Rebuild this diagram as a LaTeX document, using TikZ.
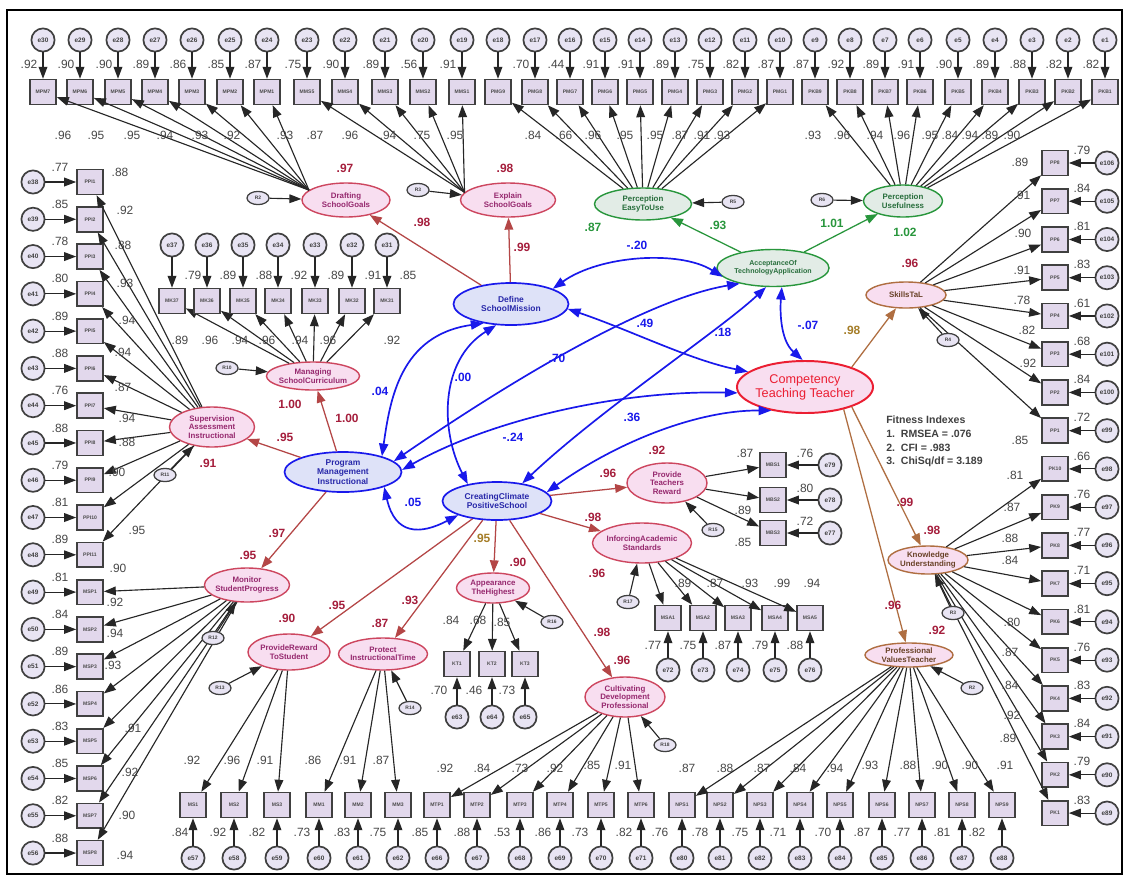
\documentclass[tikz,border=0pt]{standalone}
\usepackage{fontspec}
\setmainfont{Liberation Sans}
\usetikzlibrary{arrows.meta,shapes.geometric}
\definecolor{boxfill}{RGB}{226,216,236}
\definecolor{errfill}{RGB}{232,228,243}
\definecolor{pinkfill}{RGB}{248,222,240}
\definecolor{bluefill}{RGB}{222,226,248}
\definecolor{greenfill}{RGB}{226,236,230}
\definecolor{latred}{RGB}{205,70,95}
\definecolor{lattext}{RGB}{150,40,110}
\definecolor{blueline}{RGB}{25,25,235}
\definecolor{bluetext}{RGB}{40,40,170}
\definecolor{greenline}{RGB}{40,150,60}
\definecolor{greentext}{RGB}{40,110,60}
\definecolor{brownline}{RGB}{175,110,65}
\definecolor{strred}{RGB}{180,70,70}
\definecolor{rred}{RGB}{165,30,60}
\definecolor{olivec}{RGB}{165,125,40}
\definecolor{compred}{RGB}{235,30,50}
\begin{document}
\begin{tikzpicture}[x=0.025cm,y=-0.025cm,
  obs/.style={rectangle,draw=black!75,line width=1.2pt,fill=boxfill,minimum width=0.65cm,minimum height=0.62cm,inner sep=0pt,font=\fontsize{3.6}{4}\selectfont\bfseries,text=black!70},
  err/.style={circle,draw=black!75,line width=1.2pt,fill=errfill,minimum size=0.58cm,inner sep=0pt,font=\fontsize{4.6}{5}\selectfont\bfseries,text=black!75},
  dist/.style={ellipse,draw=black!75,line width=0.9pt,fill=errfill,minimum width=0.55cm,minimum height=0.33cm,inner sep=0pt,font=\fontsize{3.5}{4}\selectfont\bfseries,text=black!75},
  lat/.style={ellipse,line width=1pt,inner sep=0pt},
  pinklat/.style={lat,draw=latred,fill=pinkfill},
  bluelat/.style={lat,draw=blueline,fill=bluefill,line width=1.2pt},
  greenlat/.style={lat,draw=greenline,fill=greenfill},
  brownlat/.style={lat,draw=brownline,fill=pinkfill},
  ltxt/.style={align=center,font=\fontsize{5.6}{6}\selectfont\bfseries,text=lattext,inner sep=0pt},
  btxt/.style={ltxt,text=bluetext,font=\fontsize{6}{6.8}\selectfont\bfseries},
  gtxt/.style={ltxt,text=greentext},
  wtxt/.style={ltxt,text=brownline!60!black},
  arr/.style={-{Triangle[length=8.5pt,width=6.2pt]},line width=0.8pt,draw=black!85},
  sarr/.style={-{Triangle[length=8.5pt,width=6.2pt]},line width=0.9pt,draw=strred},
  garr/.style={sarr,draw=greenline},
  oarr/.style={sarr,draw=brownline},
  corr/.style={{Triangle[length=9pt,width=6.5pt]}-{Triangle[length=9pt,width=6.5pt]},line width=1.2pt,draw=blueline},
  lab/.style={font=\fontsize{8.5}{9}\selectfont,text=black!72,inner sep=0pt},
  rlab/.style={font=\fontsize{8.5}{9}\selectfont\bfseries,text=rred,inner sep=0pt},
  glab/.style={rlab,text=greenline},
  olab/.style={rlab,text=olivec},
  clab/.style={rlab,text=blueline}]
\useasboundingbox (0,0) rectangle (1127,877);
\fill[white] (0,0) rectangle (1127,877);
\draw[line width=1.3pt] (7,10) rectangle (1122,874);

% ---------- latent variables ----------
\node[pinklat,minimum width=2.2cm,minimum height=0.85cm] (draft) at (346,200) {};
\node[ltxt] at (draft) {Drafting\\SchoolGoals};
\node[pinklat,minimum width=2.375cm,minimum height=0.85cm] (expl) at (508,200) {};
\node[ltxt] at (expl) {Explain\\SchoolGoals};
\node[greenlat,minimum width=2.425cm,minimum height=0.8cm] (easy) at (643,204) {};
\node[gtxt] at (easy) {Perception\\EasyToUse};
\node[greenlat,minimum width=1.975cm,minimum height=0.8cm] (usef) at (903,201) {};
\node[gtxt] at (usef) {Perception\\Usefulness};
\node[greenlat,minimum width=2.8cm,minimum height=0.925cm] (acc) at (773,268) {};
\node[gtxt,font=\fontsize{5}{5.6}\selectfont\bfseries] at (acc) {AcceptanceOf\\TechnologyApplication};
\node[bluelat,minimum width=2.875cm,minimum height=1.05cm] (def) at (511,304) {};
\node[btxt] at (def) {Define\\SchoolMission};
\node[bluelat,minimum width=2.925cm,minimum height=1.0cm] (pm) at (343,472) {};
\node[btxt] at (pm) {Program\\Management\\Instructional};
\node[bluelat,minimum width=2.725cm,minimum height=0.95cm] (cre) at (497,501) {};
\node[btxt] at (cre) {CreatingClimate\\PositiveSchool};
\node[pinklat,minimum width=2.325cm,minimum height=0.7cm] (manag) at (313,376) {};
\node[ltxt] at (manag) {Managing\\SchoolCurriculum};
\node[pinklat,minimum width=2.125cm,minimum height=1.0cm] (superv) at (212,427) {};
\node[ltxt] at (superv) {Supervision\\Assessment\\Instructional};
\node[pinklat,minimum width=2.125cm,minimum height=0.85cm] (monit) at (247,585) {};
\node[ltxt] at (monit) {Monitor\\StudentProgress};
\node[pinklat,minimum width=2.05cm,minimum height=0.9cm] (provrew) at (289,652) {};
\node[ltxt] at (provrew) {ProvideReward\\ToStudent};
\node[pinklat,minimum width=2.225cm,minimum height=0.8cm] (protect) at (383,654) {};
\node[ltxt] at (protect) {Protect\\InstructionalTime};
\node[pinklat,minimum width=1.825cm,minimum height=0.75cm] (appear) at (493,588) {};
\node[ltxt] at (appear) {Appearance\\TheHighest};
\node[pinklat,minimum width=2.0cm,minimum height=1.0cm] (cultiv) at (625,697) {};
\node[ltxt] at (cultiv) {Cultivating\\Development\\Professional};
\node[pinklat,minimum width=2.475cm,minimum height=1.0cm] (inforc) at (642,543) {};
\node[ltxt] at (inforc) {InforcingAcademic\\Standards};
\node[pinklat,minimum width=2.0cm,minimum height=1.0cm] (provt) at (667,483) {};
\node[ltxt] at (provt) {Provide\\Teachers\\Reward};
\node[lat,draw=compred,fill=pinkfill,line width=1.4pt,minimum width=3.4cm,minimum height=1.3cm] (comp) at (805,387) {};
\node[align=center,font=\fontsize{9}{10}\selectfont,text=compred,inner sep=0pt] at (comp) {Competency\\Teaching Teacher};
\node[brownlat,minimum width=2.0cm,minimum height=0.65cm] (skills) at (906,295) {};
\node[wtxt] at (skills) {SkillsTaL};
\node[brownlat,minimum width=2.0cm,minimum height=0.7cm] (knowl) at (928,560) {};
\node[wtxt] at (knowl) {Knowledge\\Understanding};
\node[brownlat,minimum width=2.2cm,minimum height=0.6cm] (profess) at (909,655) {};
\node[wtxt] at (profess) {Professional\\ValuesTeacher};

% ---------- top row ----------
\foreach \x/\b/\e/\r [count=\i] in {43/MPM7/e30/.92,80/MPM6/e29/.90,118/MPM5/e28/.90,155/MPM4/e27/.89,192/MPM3/e26/.86,230/MPM2/e25/.85,267/MPM1/e24/.87,307/MMS5/e23/.75,345/MMS4/e22/.90,385/MMS3/e21/.89,423/MMS2/e20/.56,462/MMS1/e19/.91,498/PMG9/e18/{},535/PMG8/e17/.70,570/PMG7/e16/.44,605/PMG6/e15/.91,640/PMG5/e14/.91,675/PMG4/e13/.89,710/PMG3/e12/.75,745/PMG2/e11/.82,780/PMG1/e10/.87,815/PKB9/e9/.87,850/PKB8/e8/.92,885/PKB7/e7/.89,920/PKB6/e6/.91,958/PKB5/e5/.90,995/PKB4/e4/.89,1032/PKB3/e3/.88,1068/PKB2/e2/.82,1105/PKB1/e1/.82}{
  \node[err] (te\i) at (\x,40) {\e};
  \node[obs] (tb\i) at (\x,92) {\b};
  \draw[arr] (te\i) -- (tb\i);
  \node[lab] at (\x-14,64) {\r};
}
\foreach \i in {1,...,7} \draw[arr] (draft.165) -- (tb\i);
\foreach \i in {8,...,12} \draw[arr] (expl.170) -- (tb\i);
\foreach \i in {13,...,21} \draw[arr] (easy) -- (tb\i);
\foreach \i in {22,...,30} \draw[arr] (usef) -- (tb\i);
\foreach \x/\t in {63/.96,96/.95,132/.95,165/.94,200/.93,232/.92,285/.93,315/.87,350/.96,388/.94,422/.75,455/.95,533/.84,564/.66,593/.96,625/.95,655/.95,680/.87,702/.91,722/.93,813/.93,842/.96,875/.94,902/.96,930/.95,950/.84,970/.94,990/.89,1012/.90}
  \node[lab] at (\x,135) {\t};

% ---------- left column ----------
\foreach \b/\e/\r [count=\i] in {PPI1/e38/.77,PPI2/e39/.85,PPI3/e40/.78,PPI4/e41/.80,PPI5/e42/.89,PPI6/e43/.88,PPI7/e44/.76,PPI8/e45/.88,PPI9/e46/.79,PPI10/e47/.81,PPI11/e48/.89,MSP1/e49/.81,MSP2/e50/.84,MSP3/e51/.89,MSP4/e52/.86,MSP5/e53/.83,MSP6/e54/.85,MSP7/e55/.82,MSP8/e56/.88}{
  \pgfmathsetmacro\yy{182+37.28*(\i-1)}
  \node[err] (le\i) at (33,\yy) {\e};
  \node[obs] (lb\i) at (90,\yy) {\b};
  \draw[arr] (le\i) -- (lb\i);
  \node[lab] at (60,\yy-15) {\r};
}
\foreach \i in {1,...,11} \draw[arr] (superv) -- (lb\i);
\foreach \i in {12,...,19} \draw[arr] (monit) -- (lb\i);
\foreach \x/\y/\t in {120/172/.88,125/210/.92,123/245/.88,125/283/.93,127/320/.94,123/352/.94,123/387/.87,127/418/.94,127/442/.88,117/472/.90,137/530/.95,118/568/.90,115/602/.92,115/633/.94,113/665/.93,133/728/.91,130/772/.92,127/815/.90,125/855/.94}
  \node[lab] at (\x,\y) {\t};

% ---------- right column ----------
\foreach \b/\e/\r [count=\i] in {PP8/e106/.79,PP7/e105/.84,PP6/e104/.81,PP5/e103/.83,PP4/e102/.61,PP3/e101/.68,PP2/e100/.84,PP1/e99/.72,PK10/e98/.66,PK9/e97/.76,PK8/e96/.77,PK7/e95/.71,PK6/e94/.81,PK5/e93/.76,PK4/e92/.83,PK3/e91/.84,PK2/e90/.79,PK1/e89/.83}{
  \pgfmathsetmacro\yy{163+38.24*(\i-1)}
  \node[err] (re\i) at (1107,\yy) {\e};
  \node[obs] (rb\i) at (1055,\yy) {\b};
  \draw[arr] (re\i) -- (rb\i);
  \node[lab] at (1082,\yy-13) {\r};
}
\foreach \i in {1,...,8} \draw[arr] (skills) -- (rb\i);
\foreach \i in {9,...,18} \draw[arr] (knowl) -- (rb\i);
\foreach \x/\y/\t in {1020/162/.89,1022/195/.91,1023/233/.90,1022/270/.91,1022/300/.78,1027/330/.82,1028/363/.92,1020/440/.85,1015/475/.81,1012/507/.87,1010/538/.88,1010/560/.84,1012/622/.80,1010/652/.87,1010/685/.84,1012/715/.92,1008/738/.89}
  \node[lab] at (\x,\y) {\t};

% ---------- MK row ----------
\foreach \x/\b/\e/\r [count=\i] in {172/MK37/e37/.79,207/MK36/e36/.89,243/MK35/e35/.88,278/MK34/e34/.92,315/MK33/e33/.89,352/MK32/e32/.91,387/MK31/e31/.85}{
  \node[err] (me\i) at (\x,245) {\e};
  \node[obs] (mb\i) at (\x,301) {\b};
  \draw[arr] (me\i) -- (mb\i);
  \node[lab] at (\x+21,275) {\r};
  \draw[arr] (manag) -- (mb\i);
}
\foreach \x/\t in {180/.89,210/.96,240/.94,267/.96,300/.94,328/.96,392/.92}
  \node[lab] at (\x,340) {\t};

% ---------- Provide teachers reward ----------
\foreach \y/\b/\e/\r [count=\i] in {465/MBS1/e79/.76,500/MBS2/e78/.80,533/MBS3/e77/.72}{
  \node[err] (pe\i) at (830,\y) {\e};
  \node[obs] (pb\i) at (773,\y) {\b};
  \draw[arr] (pe\i) -- (pb\i);
  \node[lab] at (805,\y-12) {\r};
  \draw[arr] (provt) -- (pb\i);
}
\foreach \x/\y/\t in {745/453/.87,743/510/.89,743/542/.85} \node[lab] at (\x,\y) {\t};

% ---------- Inforcing academic ----------
\foreach \x/\b/\e/\r [count=\i] in {668/MSA1/e72/.77,703/MSA2/e73/.75,738/MSA3/e74/.87,775/MSA4/e75/.79,810/MSA5/e76/.88}{
  \node[err] (ae\i) at (\x,670) {\e};
  \node[obs] (ab\i) at (\x,618) {\b};
  \draw[arr] (ae\i) -- (ab\i);
  \node[lab] at (\x-15,645) {\r};
  \draw[arr] (inforc) -- (ab\i);
}
\foreach \x/\t in {683/.89,715/.87,750/.93,782/.99,812/.94} \node[lab] at (\x,583) {\t};

% ---------- Appearance ----------
\foreach \x/\b/\e/\r [count=\i] in {457/KT1/e63/.70,492/KT2/e64/.46,525/KT3/e65/.73}{
  \node[err] (ke\i) at (\x,717) {\e};
  \node[obs] (kb\i) at (\x,664) {\b};
  \draw[arr] (ke\i) -- (kb\i);
  \node[lab] at (\x-18,690) {\r};
  \draw[arr] (appear) -- (kb\i);
}
\foreach \x/\y/\t in {451/620/.84,478/620/.68,502/622/.85} \node[lab] at (\x,\y) {\t};

% ---------- bottom row ----------
\foreach \x/\b/\e/\lx/\r [count=\i] in {193/MS1/e57/180/.84,234/MS2/e58/218/.92,277/MS3/e59/257/.82,319/MM1/e60/302/.73,358/MM2/e61/342/.83,398/MM3/e62/378/.75,437/MTP1/e66/420/.85,477/MTP2/e67/462/.88,520/MTP3/e68/502/.53,560/MTP4/e69/543/.86,601/MTP5/e70/580/.73,641/MTP6/e71/624/.82,682/NPS1/e80/660/.76,720/NPS2/e81/700/.78,760/NPS3/e82/740/.75,800/NPS4/e83/778/.71,840/NPS5/e84/823/.70,882/NPS6/e85/862/.87,922/NPS7/e86/902/.77,962/NPS8/e87/942/.81,1002/NPS9/e88/977/.82}{
  \node[err] (be\i) at (\x,858) {\e};
  \node[obs] (bb\i) at (\x,805) {\b};
  \draw[arr] (be\i) -- (bb\i);
  \node[lab] at (\lx,832) {\r};
}
\foreach \i in {1,2,3} \draw[arr] (provrew) -- (bb\i);
\foreach \i in {4,5,6} \draw[arr] (protect) -- (bb\i);
\foreach \i in {7,...,12} \draw[arr] (cultiv) -- (bb\i);
\foreach \i in {13,...,21} \draw[arr] (profess) -- (bb\i);
\foreach \x/\y/\t in {192/760/.92,232/760/.96,265/760/.91,313/760/.86,348/760/.91,381/760/.87,445/768/.92,482/768/.84,520/768/.73,555/768/.92,592/765/.85,623/765/.91,687/768/.87,725/768/.88,762/768/.87,798/768/.84,835/768/.94,870/765/.93,908/765/.88,940/765/.90,970/765/.90,1005/765/.91}
  \node[lab] at (\x,\y) {\t};

% ---------- disturbances ----------
\foreach \n/\x/\y/\t/\tg in {d1/258/198/R2/draft,d2/418/190/R3/expl,d3/733/202/R5/easy,d4/822/200/R6/usef,d5/227/368/R10/manag,d6/165/475/R11/superv,d7/213/638/R12/monit,d8/220/688/R13/provrew,d9/410/708/R14/protect,d10/552/622/R16/appear,d11/628/602/R17/inforc,d12/665/745/R18/cultiv,d13/713/530/R15/provt,d14/948/340/R4/skills,d15/953/613/R3/knowl,d16/972/688/R2/profess}{
  \node[dist] (\n) at (\x,\y) {\t};
  \draw[arr] (\n) -- (\tg);
}

% ---------- structural paths ----------
\draw[sarr] (def) -- (draft);
\draw[sarr] (def) -- (expl);
\draw[sarr] (pm) -- (superv);
\draw[sarr] (pm) -- (manag);
\draw[sarr] (pm) -- (monit);
\draw[sarr] (cre) -- (provt);
\draw[sarr] (cre) -- (inforc);
\draw[sarr] (cre) -- (appear);
\draw[sarr] (cre) -- (protect);
\draw[sarr] (cre) -- (provrew);
\draw[sarr] (cre) -- (cultiv);
\draw[garr] (acc) -- (easy);
\draw[garr] (acc) -- (usef);
\draw[oarr] (comp.23) -- (skills);
\draw[oarr] (comp.337) -- (knowl);
\draw[oarr] (comp.330) -- (profess);

% ---------- correlations ----------
\draw[corr] (def.20) .. controls (600,255) and (680,250) .. (acc.190);
\draw[corr] (def.355) .. controls (630,330) and (690,360) .. (comp.165);
\draw[corr] (pm.12) .. controls (490,395) and (640,300) .. (acc.205);
\draw[corr] (cre.35) .. controls (600,410) and (720,330) .. (acc.250);
\draw[corr] (cre.10) .. controls (620,440) and (700,410) .. (comp.215);
\draw[corr] (pm.2) .. controls (490,420) and (620,390) .. (comp.185);
\draw[corr] (pm.22) .. controls (390,400) and (400,335) .. (def.215);
\draw[corr] (cre.150) .. controls (440,430) and (440,360) .. (def.235);
\draw[corr] (acc.295) .. controls (780,310) and (780,340) .. (comp.95);
\draw[corr] (pm.340) .. controls (395,535) and (420,535) .. (cre.200);

% ---------- coefficient labels ----------
\foreach \x/\y/\t in {422/222/.98,522/247/.99,345/168/.97,505/168/.98,285/437/.95,208/463/.91,347/418/1.00,290/404/1.00,277/533/.97,248/555/.95,608/473/.96,657/450/.92,593/517/.98,597/573/.96,518/562/.90,410/600/.93,380/623/.87,337/605/.95,287/618/.90,602/632/.98,622/660/.96,910/263/.96,905/502/.99,932/530/.98,893/605/.96,937/630/.92}
  \node[rlab] at (\x,\y) {\t};
\node[olab] at (482,538) {.95};
\node[olab] at (852,330) {.98};
\foreach \x/\y/\t in {593/227/.87,718/225/.93,832/223/1.01,905/232/1.02}
  \node[glab] at (\x,\y) {\t};
\foreach \x/\y/\t in {637/245/-.20,645/323/.49,557/358/.70,723/332/.18,632/417/.36,513/437/-.24,380/391/.04,463/377/.00,808/325/-.07,413/502/.05}
  \node[clab] at (\x,\y) {\t};

% ---------- fit indexes ----------
\node[align=left,anchor=north west,inner sep=0pt,font=\fontsize{7.5}{9.7}\selectfont\bfseries,text=black!75] (fit) at (886,416) {Fitness Indexes\\1.\ \ RMSEA = .076\\2.\ \ CFI = .983\\3.\ \ ChiSq/df = 3.189};
\end{tikzpicture}
\end{document}
